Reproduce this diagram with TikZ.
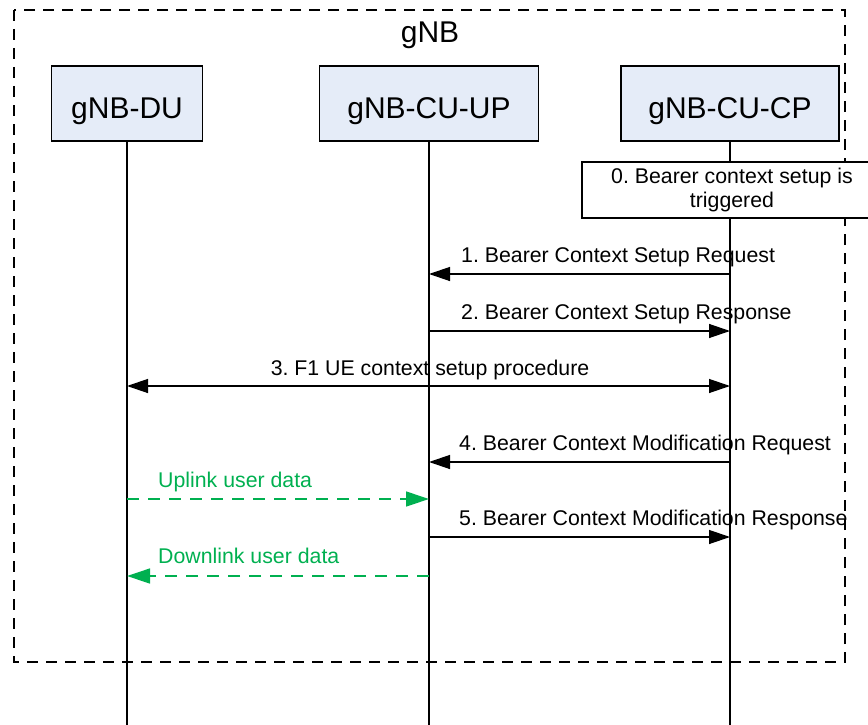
\documentclass[tikz,border=0pt]{standalone}
\usepackage{fontspec}
\setmainfont{Liberation Sans}
\usetikzlibrary{arrows.meta}
\definecolor{boxfill}{RGB}{229,236,248}
\definecolor{datagreen}{RGB}{0,176,80}
\frenchspacing
\begin{document}
\begin{tikzpicture}[x=1pt,y=-1pt,
  entity/.style={draw, line width=1.3pt, fill=boxfill, minimum height=75pt,
    inner sep=0pt, font=\fontsize{30}{36}\selectfont, text height=29pt, text depth=0pt},
  trigbox/.style={draw, line width=1.3pt, fill=white, minimum width=300pt,
    minimum height=56pt, inner sep=0pt, align=center, font=\fontsize{21.3}{24}\selectfont},
  life/.style={line width=1.1pt},
  outerbox/.style={line width=1.3pt, dash pattern=on 11pt off 8pt},
  msg/.style={line width=1.3pt, -{Triangle[length=21pt,width=14pt]}},
  bimsg/.style={line width=1.3pt, {Triangle[length=21pt,width=14pt]}-{Triangle[length=21pt,width=14pt]}},
  datamsg/.style={datagreen, line width=1.3pt, dash pattern=on 12pt off 9pt,
    -{Triangle[length=23pt,width=15pt]}},
  lbl/.style={inner sep=0pt, font=\fontsize{21.3}{25}\selectfont},
  datalbl/.style={lbl, text=datagreen}]
\useasboundingbox (0,0) rectangle (868,725);
\clip (0,0) rectangle (868,725);

% outer gNB frame
\draw[outerbox] (14,10) rectangle (845,662);
\node[anchor=base, inner sep=0pt, font=\fontsize{30}{36}\selectfont] (title) at (430,43) {gNB};

% entities
\node[entity, minimum width=151pt] (du) at (127,103.5) {gNB-DU};
\node[entity, minimum width=219pt] (cuup) at (429,103.5) {gNB-CU-UP};
\node[entity, minimum width=218pt] (cucp) at (730,103.5) {gNB-CU-CP};

% lifeline ends
\coordinate (duend) at (du.south |- 0,725);
\coordinate (cuupend) at (cuup.south |- 0,725);
\coordinate (cucpend) at (cucp.south |- 0,725);
\draw[life] (du.south) -- (duend);
\draw[life] (cuup.south) -- (cuupend);
\draw[life] (cucp.south) -- (cucpend);

% step 0
\node[trigbox] (trig) at (732,190) {0. Bearer context setup is\\triggered};

% message anchor points
\coordinate (m1a) at (cucp.south |- 0,274);
\coordinate (m1b) at (cuup.south |- 0,274);
\coordinate (m2a) at (cuup.south |- 0,331);
\coordinate (m2b) at (cucp.south |- 0,331);
\coordinate (m3a) at (du.south |- 0,386);
\coordinate (m3b) at (cucp.south |- 0,386);
\coordinate (m4a) at (cucp.south |- 0,462);
\coordinate (m4b) at (cuup.south |- 0,462);
\coordinate (ula) at (du.south |- 0,499);
\coordinate (ulb) at (cuup.south |- 0,499);
\coordinate (m5a) at (cuup.south |- 0,537);
\coordinate (m5b) at (cucp.south |- 0,537);
\coordinate (dla) at (cuup.south |- 0,576);
\coordinate (dlb) at (du.south |- 0,576);

\draw[msg] (m1a) -- (m1b);
\node[lbl, anchor=base west] (l1) at (461,262) {1. Bearer Context Setup Request};
\draw[msg] (m2a) -- (m2b);
\node[lbl, anchor=base west] (l2) at (461,319) {2. Bearer Context Setup Response};
\draw[bimsg] (m3a) -- (m3b);
\node[lbl, anchor=base] (l3) at (430,375) {3. F1 UE context setup procedure};
\draw[msg] (m4a) -- (m4b);
\node[lbl, anchor=base west] (l4) at (459,450) {4. Bearer Context Modification Request};
\draw[datamsg] (ula) -- (ulb);
\node[datalbl, anchor=base west] (lul) at (158,487) {Uplink user data};
\draw[msg] (m5a) -- (m5b);
\node[lbl, anchor=base west] (l5) at (459,525) {5. Bearer Context Modification Response};
\draw[datamsg] (dla) -- (dlb);
\node[datalbl, anchor=base west] (ldl) at (158,563) {Downlink user data};
\end{tikzpicture}
\end{document}
